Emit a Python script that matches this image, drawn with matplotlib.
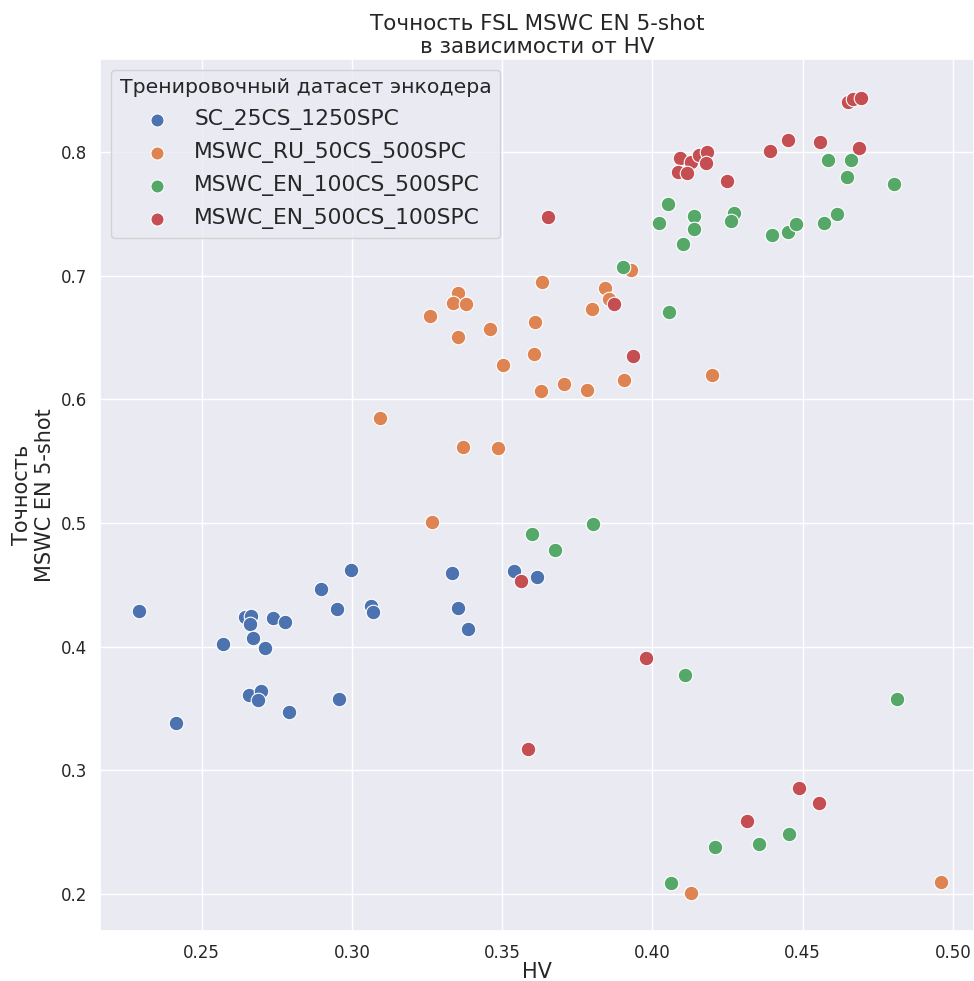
import matplotlib
matplotlib.use("Agg")
import seaborn as sns
from matplotlib import pyplot as plt

# HV / accuracy per encoder training dataset
sc_hv = [0.2293, 0.2415, 0.2646, 0.2664, 0.2662, 0.2738, 0.2776, 0.2670, 0.2572, 0.2711,
         0.2659, 0.2699, 0.2687, 0.2792, 0.2897, 0.2996, 0.2950, 0.3065, 0.3069, 0.2956,
         0.3334, 0.3354, 0.3387, 0.3539, 0.3615]
sc_acc = [0.4291, 0.3379, 0.4240, 0.4249, 0.4186, 0.4229, 0.4202, 0.4071, 0.4022, 0.3990,
          0.3609, 0.3644, 0.3568, 0.3468, 0.4470, 0.4621, 0.4305, 0.4327, 0.4283, 0.3577,
          0.4594, 0.4316, 0.4143, 0.4615, 0.4567]

ru_hv = [0.3929, 0.3632, 0.3352, 0.3336, 0.3380, 0.3260, 0.3841, 0.3857, 0.3798, 0.3611,
         0.3460, 0.3352, 0.3605, 0.3504, 0.3906, 0.3705, 0.3630, 0.3784, 0.3094, 0.3369,
         0.3487, 0.4199, 0.3266, 0.4129, 0.4961]
ru_acc = [0.7042, 0.6945, 0.6858, 0.6775, 0.6772, 0.6677, 0.6901, 0.6807, 0.6734, 0.6621,
          0.6567, 0.6500, 0.6367, 0.6281, 0.6154, 0.6127, 0.6067, 0.6075, 0.5846, 0.5617,
          0.5609, 0.6194, 0.5007, 0.2006, 0.2100]

en100_hv = [0.4585, 0.4660, 0.4646, 0.4804, 0.4052, 0.4023, 0.4138, 0.4140, 0.4103, 0.4270,
            0.4262, 0.4399, 0.4450, 0.4478, 0.4572, 0.4614, 0.4054, 0.3901, 0.3598, 0.3677,
            0.3801, 0.4109, 0.4813, 0.4454, 0.4355, 0.4208, 0.4063]
en100_acc = [0.7933, 0.7938, 0.7800, 0.7743, 0.7582, 0.7423, 0.7484, 0.7379, 0.7258, 0.7509,
             0.7444, 0.7331, 0.7355, 0.7417, 0.7425, 0.7498, 0.6702, 0.7069, 0.4909, 0.4785,
             0.4990, 0.3771, 0.3579, 0.2483, 0.2402, 0.2378, 0.2087]

en500_hv = [0.3654, 0.4650, 0.4668, 0.4695, 0.4450, 0.4557, 0.4390, 0.4689, 0.4092, 0.4129,
            0.4156, 0.4182, 0.4179, 0.4086, 0.4116, 0.4249, 0.3873, 0.3934, 0.3562, 0.3587,
            0.3979, 0.4489, 0.4554, 0.4316]
en500_acc = [0.7476, 0.8402, 0.8427, 0.8437, 0.8100, 0.8083, 0.8008, 0.8032, 0.7954, 0.7921,
             0.7976, 0.8003, 0.7914, 0.7836, 0.7827, 0.7768, 0.6767, 0.6348, 0.4534, 0.3172,
             0.3908, 0.2856, 0.2734, 0.2586]

labels = ["SC_25CS_1250SPC", "MSWC_RU_50CS_500SPC", "MSWC_EN_100CS_500SPC", "MSWC_EN_500CS_100SPC"]
groups = [(sc_hv, sc_acc), (ru_hv, ru_acc), (en100_hv, en100_acc), (en500_hv, en500_acc)]

sns.set_theme(style="darkgrid")
colors = sns.color_palette("deep")

fig = plt.figure(figsize=(9.74, 9.81), dpi=100)
ax = fig.add_axes([100 / 974, 1 - 930.7 / 981, 874 / 974, (930.7 - 58.7) / 981])

for (hv, acc), lab, c in zip(groups, labels, colors):
    ax.scatter(hv, acc, s=110, color=c, edgecolor="white", linewidth=0.8, label=lab)

ax.set_xlim(0.2162, 0.5070)
ax.set_ylim(0.1703, 0.8754)
ax.set_xticks([0.25, 0.30, 0.35, 0.40, 0.45, 0.50])
ax.set_yticks([0.2, 0.3, 0.4, 0.5, 0.6, 0.7, 0.8])
ax.tick_params(labelsize=12)

ax.set_title("Точность FSL MSWC EN 5-shot\nв зависимости от HV", fontsize=15.5, pad=4)
ax.set_xlabel("HV", fontsize=15, labelpad=0)
ax.set_ylabel("Точность\nMSWC EN 5-shot", fontsize=15)

ax.legend(title="Тренировочный датасет энкодера", loc="upper left",
          fontsize=15.7, title_fontsize=14.7, handlelength=2.4, handletextpad=0.5,
          labelspacing=0.55, markerscale=0.9)

fig.savefig("out.png", dpi=100)
